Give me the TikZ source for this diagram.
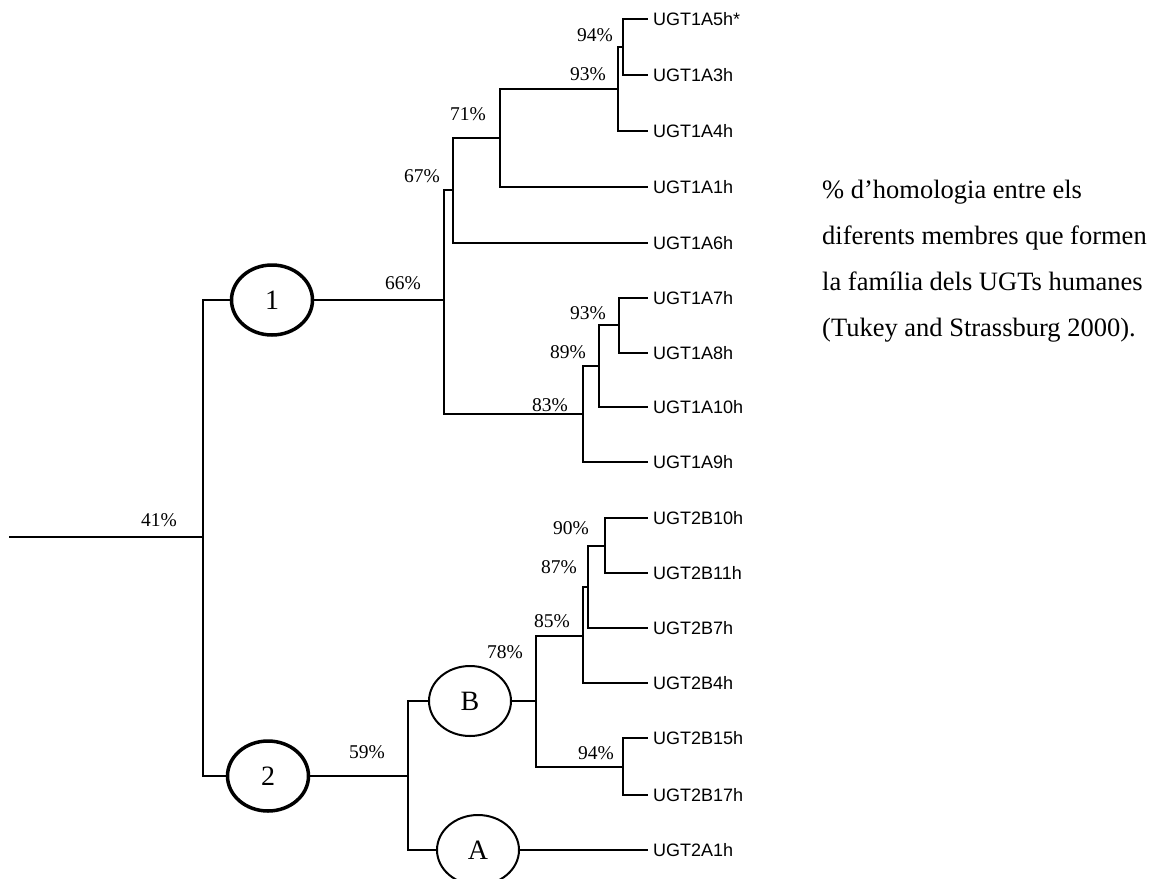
\documentclass[tikz,border=0pt]{standalone}
\usepackage{fontspec}
\setmainfont{Liberation Serif}
\newfontfamily\leaffont{Liberation Sans}
\usetikzlibrary{shapes.geometric}
\begin{document}
\begin{tikzpicture}[x=1pt,y=-1pt,
  br/.style={line width=1.8pt, line join=miter, line cap=rect},
  leaf/.style={anchor=west, inner xsep=6pt, inner ysep=0pt, font=\leaffont\fontsize{18}{18}\selectfont},
  pct/.style={inner sep=0pt, font=\fontsize{19.5}{19.5}\selectfont},
  clade/.style={ellipse, draw, inner sep=0pt, font=\fontsize{28}{28}\selectfont},
  major/.style={clade, line width=3.5pt, minimum width=81pt, minimum height=70pt},
  minor/.style={clade, line width=2pt, minimum width=82pt, minimum height=70pt},
  note/.style={anchor=base west, inner sep=0pt, font=\fontsize{26.5}{26.5}\selectfont}]
\useasboundingbox (0,0) rectangle (1153,878);
\clip (0,0) rectangle (1153,878);

% leaves
\node[leaf] (l5)  at (647,19)  {UGT1A5h*};
\node[leaf] (l3)  at (647,75)  {UGT1A3h};
\node[leaf] (l4)  at (647,131) {UGT1A4h};
\node[leaf] (l1)  at (647,187) {UGT1A1h};
\node[leaf] (l6)  at (647,243) {UGT1A6h};
\node[leaf] (l7)  at (647,298) {UGT1A7h};
\node[leaf] (l8)  at (647,353) {UGT1A8h};
\node[leaf] (l10) at (647,407) {UGT1A10h};
\node[leaf] (l9)  at (647,462) {UGT1A9h};
\node[leaf] (b10) at (647,518) {UGT2B10h};
\node[leaf] (b11) at (647,573) {UGT2B11h};
\node[leaf] (b7)  at (647,628) {UGT2B7h};
\node[leaf] (b4)  at (647,683) {UGT2B4h};
\node[leaf] (b15) at (647,738) {UGT2B15h};
\node[leaf] (b17) at (647,795) {UGT2B17h};
\node[leaf] (a1)  at (647,850) {UGT2A1h};

% clade ellipses
\node[major] (n1) at (272,300) {1};
\node[major] (n2) at (268,776) {2};
\node[minor] (nB) at (470,701) {B};
\node[minor] (nA) at (478,850) {A};

% internal points
\coordinate (root0) at (10,537);
\coordinate (r)     at (203,537);
\coordinate (c66)   at (444,300);
\coordinate (c67)   at (453,190);
\coordinate (c71)   at (500,138);
\coordinate (c93a)  at (618,89);
\coordinate (c94a)  at (623,47);
\coordinate (c83)   at (583,414);
\coordinate (c89)   at (599,366);
\coordinate (c93b)  at (619,325);
\coordinate (c59)   at (408,776);
\coordinate (c78)   at (536,701);
\coordinate (c85)   at (583,636);
\coordinate (c87)   at (588,587);
\coordinate (c90)   at (605,546);
\coordinate (c94b)  at (623,767);

% branches
\draw[br] (root0) -- (r);
\draw[br] (r) |- (n1.west);
\draw[br] (r) |- (n2.west);
\draw[br] (n1.east) -- (c66);
\draw[br] (c66) |- (c67);
\draw[br] (c66) |- (c83);
\draw[br] (c67) |- (c71);
\draw[br] (c67) |- (l6.west);
\draw[br] (c71) |- (c93a);
\draw[br] (c71) |- (l1.west);
\draw[br] (c93a) |- (c94a);
\draw[br] (c93a) |- (l4.west);
\draw[br] (c94a) |- (l5.west);
\draw[br] (c94a) |- (l3.west);
\draw[br] (c83) |- (c89);
\draw[br] (c83) |- (l9.west);
\draw[br] (c89) |- (c93b);
\draw[br] (c89) |- (l10.west);
\draw[br] (c93b) |- (l7.west);
\draw[br] (c93b) |- (l8.west);
\draw[br] (n2.east) -- (c59);
\draw[br] (c59) |- (nB.west);
\draw[br] (c59) |- (nA.west);
\draw[br] (nB.east) -- (c78);
\draw[br] (c78) |- (c85);
\draw[br] (c78) |- (c94b);
\draw[br] (c85) |- (c87);
\draw[br] (c85) |- (b4.west);
\draw[br] (c87) |- (c90);
\draw[br] (c87) |- (b7.west);
\draw[br] (c90) |- (b10.west);
\draw[br] (c90) |- (b11.west);
\draw[br] (c94b) |- (b15.west);
\draw[br] (c94b) |- (b17.west);
\draw[br] (nA.east) -- (a1.west);

% percentages
\node[pct] (p94a) at (595,35)  {94\%};
\node[pct] (p93a) at (588,74)  {93\%};
\node[pct] (p71)  at (468,114) {71\%};
\node[pct] (p67)  at (422,176) {67\%};
\node[pct] (p66)  at (403,283) {66\%};
\node[pct] (p93b) at (588,313) {93\%};
\node[pct] (p89)  at (568,352) {89\%};
\node[pct] (p83)  at (550,405) {83\%};
\node[pct] (p41)  at (159,520) {41\%};
\node[pct] (p90)  at (571,528) {90\%};
\node[pct] (p87)  at (559,567) {87\%};
\node[pct] (p85)  at (552,621) {85\%};
\node[pct] (p78)  at (505,652) {78\%};
\node[pct] (p59)  at (367,752) {59\%};
\node[pct] (p94b) at (596,753) {94\%};

% note
\node[note] (t1) at (822,198) {\% d’homologia entre els};
\node[note] (t2) at (822,244) {diferents membres que formen};
\node[note] (t3) at (822,290) {la família dels UGTs humanes};
\node[note] (t4) at (822,336) {(Tukey and Strassburg 2000).};
\end{tikzpicture}
\end{document}
